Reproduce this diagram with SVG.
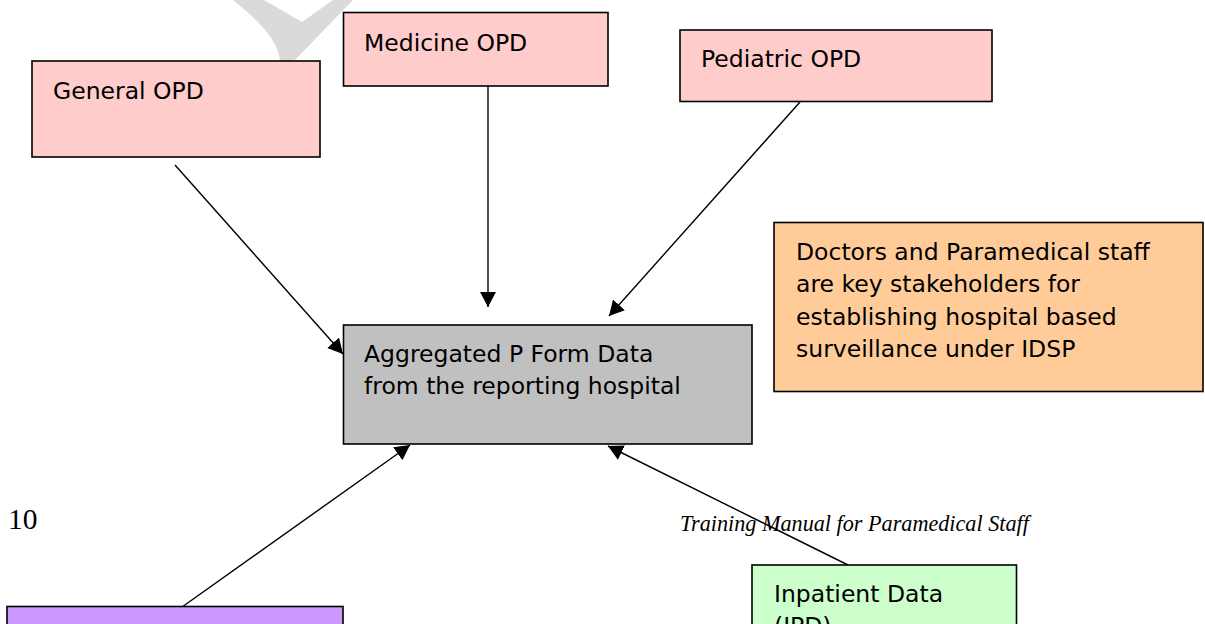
<svg xmlns="http://www.w3.org/2000/svg" width="1205" height="624" viewBox="0 0 1205 624">
<style>
.box{stroke:#000;stroke-width:1.6}
.pink{fill:#FFCCCC}
.gray{fill:#C0C0C0}
.orange{fill:#FFCC99}
.purple{fill:#CC99FF}
.green{fill:#CCFFCC}
.lbl{font-family:"DejaVu Sans",sans-serif;font-size:23.5px;fill:#000}
.conn{stroke:#000;stroke-width:1.4;fill:none;marker-end:url(#ah)}
.serif{font-family:"Liberation Serif",serif;fill:#000}
</style>
<defs>
<marker id="ah" markerUnits="userSpaceOnUse" markerWidth="16" markerHeight="16" viewBox="0 0 16 16" refX="15" refY="8" orient="auto">
<path d="M0,0 L15,8 L0,16 Z" fill="#000"/>
</marker>
</defs>
<rect width="1205" height="624" fill="#fff"/>
<path d="M233,0 L264,0 L302,22 L333,0 L353,0 L294,61 L280,61 C278,40 260,22 233,0 Z" fill="#DADADA"/>
<g id="page-text">
<text class="serif" x="8" y="529" font-size="29.5">10</text>
<text class="serif" x="680" y="531" font-size="22.2" font-style="italic">Training Manual for Paramedical Staff</text>
</g>
<g id="connectors">
<path class="conn" d="M175,165 L343,354"/>
<path class="conn" d="M488,86 L488,307"/>
<path class="conn" d="M800,102 L609,316"/>
<path class="conn" d="M175,612 L410,445"/>
<path class="conn" d="M848,565 L608,446"/>
</g>
<g id="general-opd">
<rect class="box pink" x="32" y="61" width="288" height="96"/>
<text class="lbl" x="53" y="99">General OPD</text>
</g>
<g id="medicine-opd">
<rect class="box pink" x="343.5" y="12.5" width="264.5" height="73.5"/>
<text class="lbl" x="364" y="51">Medicine OPD</text>
</g>
<g id="pediatric-opd">
<rect class="box pink" x="680" y="30" width="312" height="71.5"/>
<text class="lbl" x="701" y="67">Pediatric OPD</text>
</g>
<g id="stakeholder-note">
<rect class="box orange" x="774" y="222.5" width="429" height="169"/>
<text class="lbl" x="796" y="260">Doctors and Paramedical staff</text>
<text class="lbl" x="796" y="292">are key stakeholders for</text>
<text class="lbl" x="796" y="325">establishing hospital based</text>
<text class="lbl" x="796" y="357">surveillance under IDSP</text>
</g>
<g id="aggregated">
<rect class="box gray" x="343.5" y="325" width="408.5" height="119"/>
<text class="lbl" x="364" y="362">Aggregated P Form Data</text>
<text class="lbl" x="364" y="394">from the reporting hospital</text>
</g>
<g id="purple-node">
<rect class="box purple" x="7" y="606.5" width="336" height="40"/>
</g>
<g id="ipd">
<rect class="box green" x="752" y="565" width="264.5" height="80"/>
<text class="lbl" x="774" y="602">Inpatient Data</text>
<text class="lbl" x="774" y="634">(IPD)</text>
</g>
</svg>
